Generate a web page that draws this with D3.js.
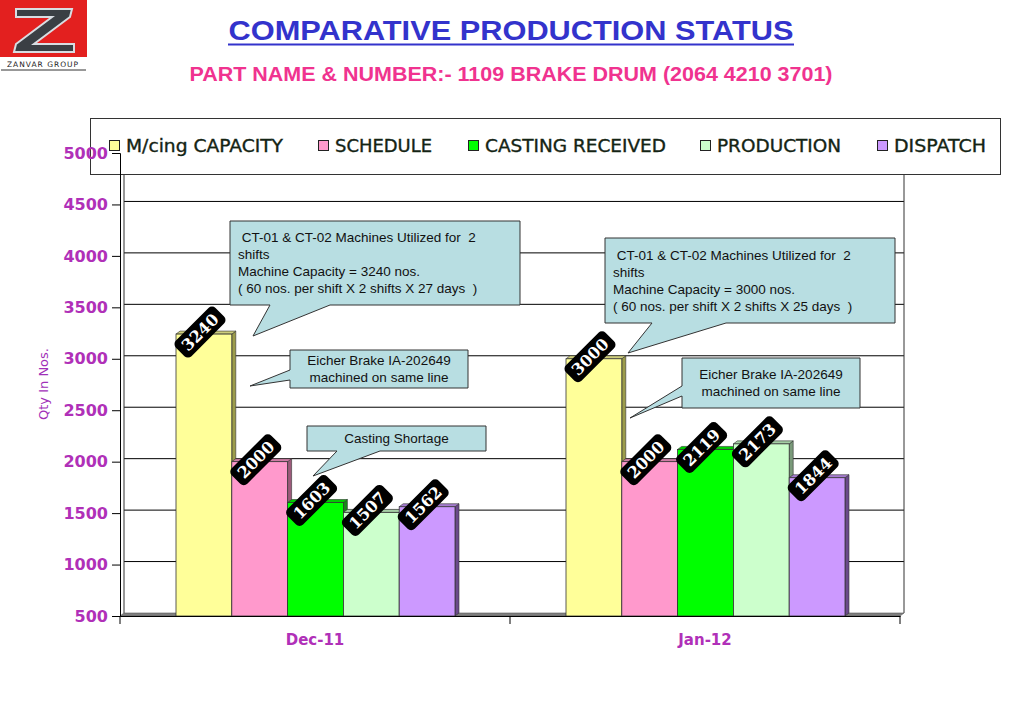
<!DOCTYPE html>
<html><head><meta charset="utf-8">
<script src="https://cdn.jsdelivr.net/npm/d3@7"></script>
<style>body{margin:0;background:#fff}svg{display:block}</style>
</head><body>
<svg id="c" width="1023" height="716"></svg>
<script>
const categories = ["Dec-11", "Jan-12"];
const seriesNames = ["M/cing CAPACITY", "SCHEDULE", "CASTING RECEIVED", "PRODUCTION", "DISPATCH"];
const capacity = [3240, 3000];
const schedule = [2000, 2000];
const castingReceived = [1603, 2119];
const production = [1507, 2173];
const dispatch = [1562, 1844];
const yTicks = [500, 1000, 1500, 2000, 2500, 3000, 3500, 4000, 4500, 5000];
const colors = ["#FFFF99", "#FF99CC", "#00FF00", "#CCFFCC", "#CC99FF"];
const sideColors = ["#9c9c4a", "#9c5a7a", "#1a8a1a", "#7a9a7a", "#6a4a8a"];
const seriesValues = [capacity, schedule, castingReceived, production, dispatch];

const svg = d3.select("#c");
const font = "Verdana, 'DejaVu Sans', sans-serif";
const arial = "Arial, 'Liberation Sans', sans-serif";

// Logo
const logo = svg.append("g");
logo.append("rect").attr("x",0).attr("y",0).attr("width",87).attr("height",57).attr("fill","#E3201F");
logo.append("path").attr("d","M16,9 L72,9 L70,17 L34,44 L74,44 L74,52 L14,52 L16,44 L52,17 L16,17 Z")
  .attr("fill","#3a3f44").attr("stroke","#d8dde2").attr("stroke-width",2);
logo.append("text").attr("x",43).attr("y",67).attr("text-anchor","middle").attr("font-family",font)
  .attr("font-size",7.5).attr("letter-spacing",1).attr("fill","#222").text("ZANVAR GROUP");
logo.append("line").attr("x1",1).attr("x2",86).attr("y1",70).attr("y2",70).attr("stroke","#333").attr("stroke-width",1);

// Titles
svg.append("text").attr("x",511).attr("y",40).attr("text-anchor","middle").attr("font-family",arial)
  .attr("font-weight","bold").attr("font-size",27).attr("textLength",565).attr("lengthAdjust","spacingAndGlyphs")
  .attr("fill","#3333CC").text("COMPARATIVE PRODUCTION STATUS");
svg.append("line").attr("x1",228).attr("x2",794).attr("y1",44.5).attr("y2",44.5).attr("stroke","#3333CC").attr("stroke-width",2);
svg.append("text").attr("x",511).attr("y",81).attr("text-anchor","middle").attr("font-family",arial)
  .attr("font-weight","bold").attr("font-size",19.5).attr("textLength",643).attr("lengthAdjust","spacingAndGlyphs")
  .attr("fill","#F0338F").text("PART NAME & NUMBER:- 1109 BRAKE DRUM (2064 4210 3701)");

// Scales
const y = d3.scaleLinear().domain([500, 5000]).range([616, 153]);
const x0 = d3.scaleBand().domain(categories).range([120, 900]);
const x1 = d3.scaleBand().domain(seriesNames).range([56, 335]);
const dx = 4, dy = 3;

// Back wall gridlines
const g = svg.append("g");
g.selectAll("line.grid").data(yTicks.slice(1)).join("line")
  .attr("x1",120+dx).attr("x2",900+dx).attr("y1",d=>y(d)-dy).attr("y2",d=>y(d)-dy)
  .attr("stroke","#000").attr("stroke-width",1);
g.append("line").attr("x1",120+dx).attr("x2",120+dx).attr("y1",175).attr("y2",616-dy).attr("stroke","#333");
g.append("line").attr("x1",900+dx).attr("x2",900+dx).attr("y1",175).attr("y2",616-dy).attr("stroke","#333");
// floor
g.append("path").attr("d",`M120,616 L900,616 L${900+dx},${616-dy} L${120+dx},${616-dy} Z`)
  .attr("fill","#808080").attr("stroke","#555").attr("stroke-width",0.6);

// Bars
const barsData = [];
categories.forEach((c, ci) => seriesNames.forEach((s, si) => barsData.push({c, s, si, v: seriesValues[si][ci]})));
const bars = svg.append("g").selectAll("g").data(barsData).join("g");
const bw = x1.bandwidth();
bars.append("path").attr("d", d => {
  const x = x0(d.c) + x1(d.s) + bw, t = y(d.v), b = y(500);
  return `M${x},${t} L${x+dx},${t-dy} L${x+dx},${b-dy} L${x},${b} Z`;
}).attr("fill", d => sideColors[d.si]).attr("stroke","#333").attr("stroke-width",0.6);
bars.append("path").attr("d", d => {
  const x = x0(d.c) + x1(d.s), t = y(d.v);
  return `M${x},${t} L${x+dx},${t-dy} L${x+bw+dx},${t-dy} L${x+bw},${t} Z`;
}).attr("fill", d => d3.color(colors[d.si]).darker(0.6)).attr("stroke","#333").attr("stroke-width",0.6);
bars.append("rect").attr("x", d => x0(d.c) + x1(d.s)).attr("y", d => y(d.v))
  .attr("width", bw).attr("height", d => y(500) - y(d.v))
  .attr("fill", d => colors[d.si]).attr("stroke","#333").attr("stroke-width",0.8);

// Value labels
const lab = bars.append("g").attr("transform", d => `translate(${x0(d.c) + x1(d.s) + bw*0.43},${y(d.v)-2}) rotate(-45)`);
lab.append("rect").attr("x",-28).attr("y",-11).attr("width",56).attr("height",22).attr("rx",5).attr("fill","#000");
lab.append("text").attr("text-anchor","middle").attr("dy","0.36em").attr("font-family","'DejaVu Serif', 'Liberation Serif', serif")
  .attr("font-weight","bold").attr("font-size",16).attr("fill","#fff").text(d => d.v);

// Legend
svg.append("rect").attr("x",90.5).attr("y",118.5).attr("width",910).attr("height",56).attr("fill","#fff").attr("stroke","#333");
const legX = [109, 318, 468, 700, 877];
const legW = [157, 97, 181, 124, 92];
const leg = svg.append("g").selectAll("g").data(seriesNames).join("g").attr("transform",(d,i)=>`translate(${legX[i]},146)`);
leg.append("rect").attr("x",0.5).attr("y",-5.5).attr("width",10).attr("height",10).attr("fill",(d,i)=>colors[i]).attr("stroke","#222");
leg.append("text").attr("x",17).attr("y",6).attr("font-family",font).attr("font-size",17)
  .attr("textLength",(d,i)=>legW[i]).attr("lengthAdjust","spacingAndGlyphs")
  .attr("fill","#142414").attr("stroke","#142414").attr("stroke-width",0.35).text(d=>d);

// Y axis
const yAxis = d3.axisLeft(y).tickValues(yTicks).tickSize(8).tickPadding(4).tickFormat(d3.format("d"));
const ya = svg.append("g").attr("transform","translate(120,0)").call(yAxis);
ya.select(".domain").attr("stroke","#000");
ya.selectAll("line").attr("stroke","#000");
ya.selectAll("text").attr("font-family",font).attr("font-weight","bold").attr("font-size",16).attr("fill","#B030B8");
// X axis
const xAxis = d3.axisBottom(x0).tickSize(0).tickPadding(18);
const xa = svg.append("g").attr("transform","translate(0,616)").call(xAxis);
xa.select(".domain").attr("stroke","#000");
xa.selectAll("text").attr("font-family",font).attr("font-weight","bold").attr("font-size",15).attr("fill","#B030B8");
xa.selectAll(".bnd").data([120, 510, 900]).join("line").attr("x1",d=>d).attr("x2",d=>d).attr("y1",0).attr("y2",8).attr("stroke","#000");

svg.append("text").attr("transform","translate(48,384) rotate(-90)").attr("text-anchor","middle")
  .attr("font-family",font).attr("font-size",13).attr("fill","#A030B8").text("Qty In Nos.");

// Callouts
const callouts = [
  {x:230, y:221, w:290, h:84, tail:[[270,305],[253,336],[330,305]], lines:[" CT-01 & CT-02 Machines Utilized for  2","shifts","Machine Capacity = 3240 nos.","( 60 nos. per shift X 2 shifts X 27 days  )"], align:"start"},
  {x:290, y:350, w:178, h:38, tail:[[290,370],[250,386],[290,380]], lines:["Eicher Brake IA-202649","machined on same line"], align:"middle"},
  {x:307, y:426, w:179, h:25, tail:[[337,451],[313,476],[380,451]], lines:["Casting Shortage"], align:"middle"},
  {x:605, y:238, w:290, h:85, tail:[[652,323],[628,353],[726,323]], lines:[" CT-01 & CT-02 Machines Utilized for  2","shifts","Machine Capacity = 3000 nos.","( 60 nos. per shift X 2 shifts X 25 days  )"], align:"start"},
  {x:682, y:358, w:178, h:50, tail:[[682,386],[630,418],[682,396]], lines:["Eicher Brake IA-202649","machined on same line"], align:"middle"}
];
const co = svg.append("g").selectAll("g").data(callouts).join("g");
co.append("path").attr("d", d => {
  const [a,t,b] = d.tail, x2 = d.x+d.w, y2 = d.y+d.h;
  if (a[1] === y2) return `M${d.x},${d.y} L${x2},${d.y} L${x2},${y2} L${b[0]},${y2} L${t[0]},${t[1]} L${a[0]},${y2} L${d.x},${y2} Z`;
  return `M${d.x},${d.y} L${x2},${d.y} L${x2},${y2} L${d.x},${y2} L${d.x},${b[1]} L${t[0]},${t[1]} L${d.x},${a[1]} Z`;
}).attr("fill","#B8DEE2").attr("stroke","#333").attr("stroke-width",1);
co.each(function(d){
  const gg = d3.select(this);
  const n = d.lines.length, lh = 17;
  const startY = d.y + d.h/2 - (n-1)*lh/2;
  d.lines.forEach((l,i) => gg.append("text")
    .attr("x", d.align === "middle" ? d.x + d.w/2 : d.x + 8)
    .attr("y", startY + i*lh).attr("dy","0.35em").attr("text-anchor", d.align)
    .attr("font-family", arial).attr("font-size",13.5).attr("fill","#111").attr("xml:space","preserve").text(l));
});
</script>
</body></html>
